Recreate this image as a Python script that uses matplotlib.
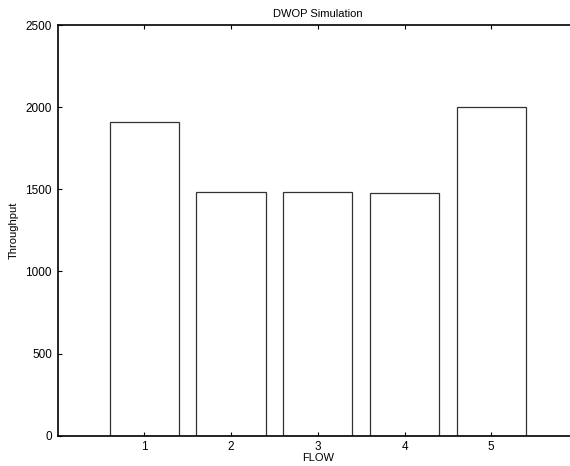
import matplotlib
matplotlib.use('Agg')
import matplotlib.pyplot as plt

plt.rcParams['font.family'] = ['Liberation Sans', 'DejaVu Sans']

flows = [1, 2, 3, 4, 5]
throughput = [1910, 1485, 1482, 1481, 2000]
yticks = [0, 500, 1000, 1500, 2000, 2500]

fig = plt.figure(figsize=(5.7, 4.66), dpi=100)
ax = fig.add_axes([0.101, 0.065, 0.913, 0.881])

ax.bar(flows, throughput, width=0.8, color='white', edgecolor='#333333', linewidth=0.9)

ax.set_xlim(0, 6)
ax.set_ylim(0, 2500)
ax.set_xticks(flows)
ax.set_yticks(yticks)
ax.tick_params(direction='in', length=3, width=0.8, labelsize=8.5, top=True, right=True, pad=4)
for s in ax.spines.values():
    s.set_linewidth(1.2)

ax.set_title("DWOP Simulation", fontsize=8, pad=6)
ax.set_xlabel("FLOW", fontsize=8, labelpad=0)
ax.set_ylabel("Throughput", fontsize=8, labelpad=5)

fig.savefig('out.png', dpi=100)
